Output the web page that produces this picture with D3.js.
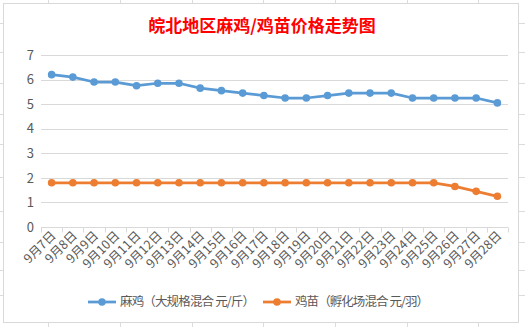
<!DOCTYPE html>
<html><head><meta charset="utf-8">
<script src="https://cdn.jsdelivr.net/npm/d3@7"></script>
<style>html,body{margin:0;padding:0;background:#fff;}svg{display:block;}</style>
</head><body>
<svg id="c" width="525" height="327"></svg>
<script>
const title = "皖北地区麻鸡/鸡苗价格走势图";
const categories = ["9月7日","9月8日","9月9日","9月10日","9月11日","9月12日","9月13日","9月14日","9月15日","9月16日","9月17日","9月18日","9月19日","9月20日","9月21日","9月22日","9月23日","9月24日","9月25日","9月26日","9月27日","9月28日"];
const seriesNames = ["麻鸡（大规格混合 元/斤）","鸡苗（孵化场混合 元/羽）"];
const maji = [6.2,6.1,5.9,5.9,5.75,5.85,5.85,5.65,5.55,5.45,5.35,5.25,5.25,5.35,5.45,5.45,5.45,5.25,5.25,5.25,5.25,5.05];
const jimiao = [1.8,1.8,1.8,1.8,1.8,1.8,1.8,1.8,1.8,1.8,1.8,1.8,1.8,1.8,1.8,1.8,1.8,1.8,1.8,1.65,1.45,1.25];
const yTicks = [0,1,2,3,4,5,6,7];
const colors = ["#5b9bd5","#ed7d31"];

const svg = d3.select("#c");
const font = "'Microsoft YaHei','Noto Sans CJK SC','Noto Sans',sans-serif";

// spreadsheet background gridlines
const bg = svg.append("g").attr("stroke","#dcdcdc").attr("stroke-width",1);
[48,120,192,263,335,407,478].forEach(x=>bg.append("line").attr("x1",x+0.5).attr("x2",x+0.5).attr("y1",0).attr("y2",327));
[23,52,83,114,144,177,211,242,270,295].forEach(y=>bg.append("line").attr("x1",0).attr("x2",525).attr("y1",y+0.5).attr("y2",y+0.5));

// chart area
svg.append("rect").attr("x",3.5).attr("y",3.5).attr("width",515).attr("height",319)
  .attr("fill","#fff").attr("stroke","#d9d9d9");

svg.append("text").attr("x",262).attr("y",32).attr("text-anchor","middle")
  .attr("fill","#ff0000").attr("font-size",17).attr("font-weight","bold")
  .attr("font-family",font).text(title);

const x = d3.scaleBand().domain(categories).range([41,508]);
const y = d3.scaleLinear().domain([0,7]).range([227,55]);

// y gridlines & labels
const gy = svg.append("g");
yTicks.forEach(t=>{
  if(t>0) gy.append("line").attr("x1",41).attr("x2",508).attr("y1",Math.round(y(t))+0.5).attr("y2",Math.round(y(t))+0.5).attr("stroke","#d9d9d9");
});
const yAxis = svg.append("g").attr("transform","translate(41,0)")
  .call(d3.axisLeft(y).tickValues(yTicks).tickSize(0).tickPadding(7).tickFormat(d3.format("d")));
yAxis.select(".domain").remove();
yAxis.selectAll("text").attr("fill","#595959").attr("font-size",13).attr("font-family",font);

// x axis
const xAxis = svg.append("g").attr("transform",`translate(0,${Math.round(y(0))+0.5})`)
  .call(d3.axisBottom(x).tickSize(0).tickPadding(0));
xAxis.select(".domain").attr("stroke","#d9d9d9").attr("d",`M41,0H508`);
const bounds = categories.map(c=>x(c)).concat([x(categories[categories.length-1])+x.bandwidth()]);
bounds.forEach(b=>xAxis.append("line").attr("x1",Math.round(b)+0.5).attr("x2",Math.round(b)+0.5).attr("y1",0).attr("y2",5).attr("stroke","#d9d9d9"));
xAxis.selectAll(".tick text")
  .attr("fill","#595959").attr("font-size",12.5).attr("font-family",font)
  .attr("text-anchor","end").attr("dy",null).attr("y",0)
  .attr("transform","translate(5,9) rotate(-45)");

const line = d3.line().x((d,i)=>x(categories[i])+x.bandwidth()/2).y(d=>y(d));
[maji,jimiao].forEach((data,k)=>{
  svg.append("path").datum(data).attr("d",line).attr("fill","none")
    .attr("stroke",colors[k]).attr("stroke-width",2.75).attr("stroke-linejoin","round");
  svg.append("g").selectAll("circle").data(data).join("circle")
    .attr("cx",(d,i)=>x(categories[i])+x.bandwidth()/2).attr("cy",d=>y(d)).attr("r",3.8)
    .attr("fill",colors[k]);
});

// legend
const legX = [88,263];
const legW = [135,134];
seriesNames.forEach((n,k)=>{
  const g = svg.append("g").attr("transform",`translate(${legX[k]},302)`);
  g.append("line").attr("x1",0).attr("x2",28).attr("y1",0).attr("y2",0).attr("stroke",colors[k]).attr("stroke-width",2.75);
  g.append("circle").attr("cx",14).attr("cy",0).attr("r",3.8).attr("fill",colors[k]);
  g.append("text").attr("x",32).attr("y",0).attr("dy","0.35em").attr("fill","#595959")
    .attr("font-size",12.5).attr("font-family",font)
    .attr("textLength",legW[k]).attr("lengthAdjust","spacing").text(n);
});
</script>
</body></html>
